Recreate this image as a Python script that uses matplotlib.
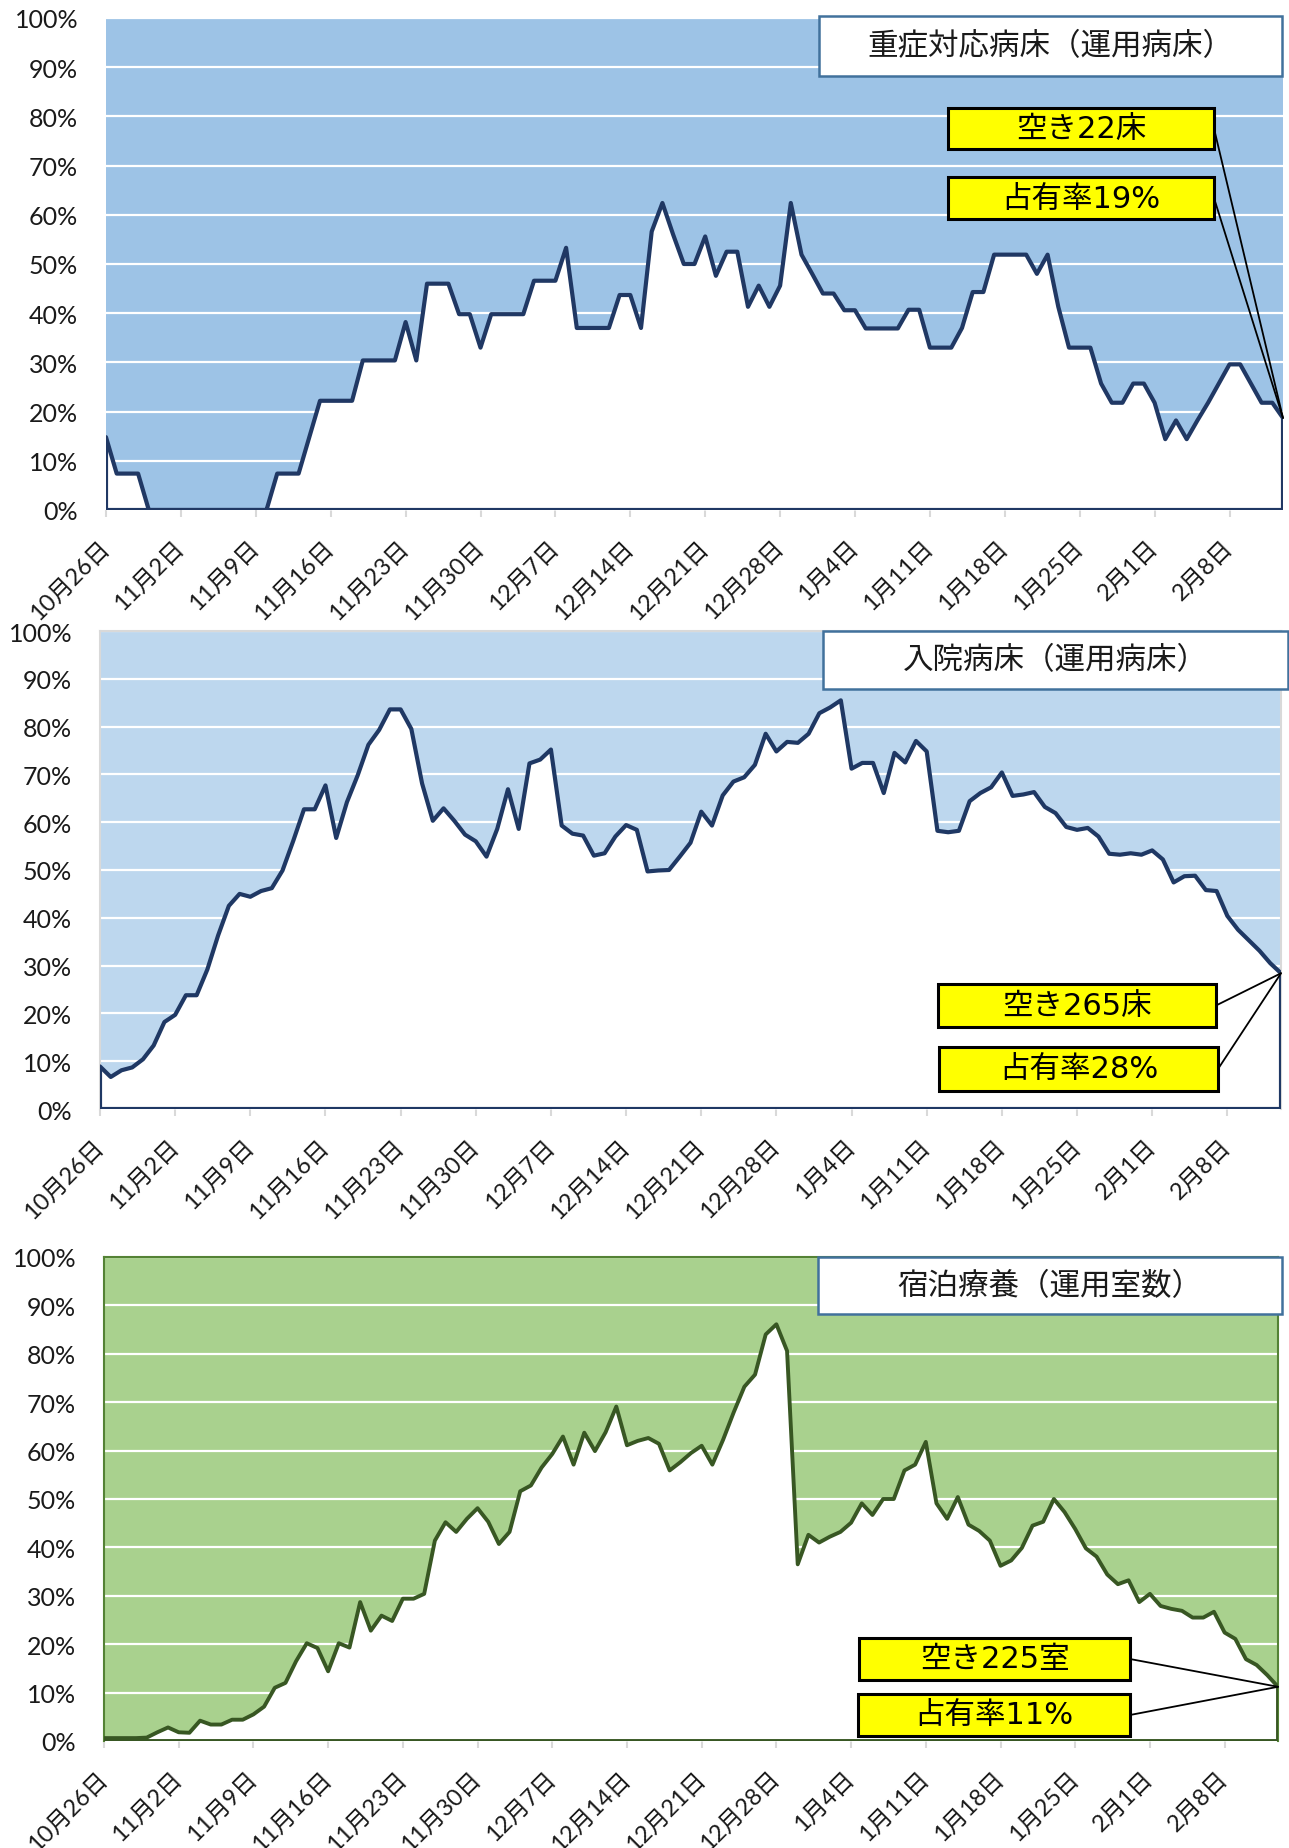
import numpy as np
import matplotlib
matplotlib.use("Agg")
import matplotlib.pyplot as plt
from matplotlib.patches import Rectangle, ConnectionPatch

# ---------------- data ----------------
tick_labels = ["10月26日", "11月2日", "11月9日", "11月16日", "11月23日", "11月30日",
               "12月7日", "12月14日", "12月21日", "12月28日", "1月4日", "1月11日",
               "1月18日", "1月25日", "2月1日", "2月8日"]

# 重症対応病床 occupancy (%), daily from 10/26 to 2/13
severe = [14.8, 7.4, 7.4, 7.4,
          0, 0, 0, 0, 0, 0, 0, 0, 0, 0, 0, 0,
          7.4, 7.4, 7.4, 14.8,
          22.2, 22.2, 22.2, 22.2,
          30.4, 30.4, 30.4, 30.4,
          38.2, 30.4,
          46.0, 46.0, 46.0,
          39.8, 39.8, 33.0,
          39.8, 39.8, 39.8, 39.8,
          46.6, 46.6, 46.6, 53.3,
          37.0, 37.0, 37.0, 37.0,
          43.7, 43.7, 37.0,
          56.6, 62.4, 56.0, 50.0, 50.0, 55.6, 47.6, 52.5, 52.5, 41.3,
          45.6, 41.3, 45.6, 62.4, 51.9, 48.0, 44.0, 44.0, 40.6, 40.6,
          36.9, 36.9, 36.9, 36.9, 40.7, 40.7, 33.0, 33.0, 33.0, 37.0,
          44.3, 44.3, 51.9, 51.9, 51.9, 51.9, 48.0, 51.9, 41.3, 33.0,
          33.0, 33.0, 25.7, 21.8, 21.8, 25.7, 25.7, 21.8, 14.4, 18.2,
          14.4, 18.2, 21.8, 25.7, 29.6, 29.6, 25.7, 21.8, 21.8, 18.7]

# 入院病床 occupancy (%)
hospital = [8.9, 6.7, 8.1, 8.7, 10.4, 13.3, 18.2, 19.7, 23.8, 23.8,
            29.2, 36.3, 42.5, 45.0, 44.4, 45.6, 46.2, 49.9, 56.1, 62.7,
            62.7, 67.7, 56.7, 64.2, 69.8, 76.2, 79.3, 83.6, 83.6, 79.5,
            68.1, 60.3, 62.9, 60.3, 57.4, 56.0, 52.8, 58.6, 66.9, 58.6,
            72.3, 73.1, 75.2, 59.3, 57.6, 57.2, 53.0, 53.5, 57.0, 59.4,
            58.4, 49.7, 49.9, 50.0, 52.8, 55.7, 62.2, 59.3, 65.6, 68.5,
            69.4, 72.0, 78.5, 74.8, 76.8, 76.6, 78.5, 82.8, 84.0, 85.5,
            71.2, 72.4, 72.4, 66.1, 74.5, 72.5, 77.0, 74.8, 58.2, 57.9,
            58.2, 64.4, 66.1, 67.3, 70.4, 65.5, 65.8, 66.3, 63.2, 61.9,
            59.0, 58.4, 58.8, 57.0, 53.4, 53.2, 53.5, 53.2, 54.1, 52.2,
            47.4, 48.7, 48.8, 45.8, 45.6, 40.4, 37.5, 35.3, 33.1, 30.5,
            28.4]

# 宿泊療養 occupancy (%)
hotel = [0.6, 0.6, 0.6, 0.6, 0.7, 1.8, 2.8, 1.8, 1.7, 4.2,
         3.4, 3.4, 4.4, 4.4, 5.5, 7.1, 11.0, 12.0, 16.5, 20.2,
         19.2, 14.4, 20.2, 19.3, 28.7, 22.8, 25.9, 24.8, 29.4, 29.4,
         30.4, 41.4, 45.2, 43.2, 45.9, 48.1, 45.3, 40.7, 43.2, 51.6,
         52.8, 56.5, 59.3, 62.9, 57.1, 63.7, 59.9, 63.8, 69.1, 61.1,
         62.0, 62.6, 61.4, 55.9, 57.6, 59.5, 61.0, 57.1, 62.2, 67.9,
         73.2, 75.7, 84.0, 86.1, 80.6, 36.5, 42.6, 41.0, 42.2, 43.2,
         45.1, 49.1, 46.7, 50.0, 50.0, 55.9, 57.1, 61.8, 49.1, 45.9,
         50.4, 44.7, 43.4, 41.4, 36.2, 37.3, 39.9, 44.5, 45.3, 50.0,
         47.3, 43.8, 39.8, 38.1, 34.4, 32.4, 33.2, 28.7, 30.4, 27.9,
         27.3, 26.9, 25.5, 25.5, 26.7, 22.4, 21.1, 16.9, 15.7, 13.6,
         11.2]

titles = ["重症対応病床（運用病床）", "入院病床（運用病床）", "宿泊療養（運用室数）"]
labels_a = ["空き22床", "空き265床", "空き225室"]
labels_b = ["占有率19%", "占有率28%", "占有率11%"]

# ---------------- figure ----------------
plt.rcParams["font.family"] = ["Lato", "Noto Sans CJK JP"]
W, H = 1289, 1849
fig = plt.figure(figsize=(W / 100, H / 100), dpi=100)


def fx(px):
    return px / W


def fy(py):
    return 1 - py / H


def make_axes(l, t, r, b):
    return fig.add_axes([fx(l), fy(b), (r - l) / W, (b - t) / H])


panels = [
    dict(vals=severe, box=(106, 19, 1283, 511), bg="#9DC3E6", lc="#203864",
         lw=3.0, spine=None,
         title_box=(819, 17, 1282, 77),
         ya=(948, 109, 1214, 150), yb=(948, 178, 1214, 220)),
    dict(vals=hospital, box=(100, 632, 1281, 1110), bg="#BDD7EE", lc="#1F3864",
         lw=3.0, spine="#D9D9D9",
         title_box=(823, 632, 1288, 690),
         ya=(938, 985, 1216, 1028), yb=(939, 1048, 1218, 1092)),
    dict(vals=hotel, box=(104, 1258, 1278, 1742), bg="#A9D18E", lc="#385723",
         lw=2.8, spine="#548235",
         title_box=(818, 1258, 1282, 1315),
         ya=(859, 1639, 1130, 1681), yb=(858, 1695, 1130, 1737)),
]

for i, p in enumerate(panels):
    ax = make_axes(*p["box"])
    vals = np.array(p["vals"], dtype=float)
    x = np.arange(len(vals))
    ax.set_facecolor(p["bg"])
    ax.set_xlim(0, len(vals) - 1)
    ax.set_ylim(0, 100)
    ax.set_axisbelow(True)
    ax.yaxis.grid(True, color="white", lw=1.6)
    ax.fill_between(x, 0, vals, color="white", lw=0, zorder=2)
    # outline of the area (clipped at the plot edges)
    ox = np.concatenate([[0], x, [x[-1]], [0]])
    oy = np.concatenate([[0], vals, [0], [0]])
    ax.plot(ox, oy, color=p["lc"], lw=p["lw"], zorder=3,
            solid_joinstyle="round", solid_capstyle="butt")

    ax.set_yticks(np.arange(0, 101, 10))
    ax.set_yticklabels([f"{v}%" for v in range(0, 101, 10)])
    ax.set_xticks(np.arange(0, 7 * len(tick_labels), 7))
    ax.set_xticklabels(tick_labels, rotation=45, ha="right", va="center",
                       rotation_mode="anchor")
    ax.tick_params(axis="y", length=0, pad=20, labelsize=18, labelcolor="#1a1a1a")
    ax.tick_params(axis="x", length=5, width=1.5, color="#D9D9D9", pad=19,
                   labelsize=17, labelcolor="#1a1a1a", direction="out")
    for s in ax.spines.values():
        if p["spine"] is None:
            s.set_visible(False)
        else:
            s.set_color(p["spine"])
            s.set_linewidth(1.5)
    ax.spines["bottom"].set_visible(False)

    # title box
    l, t, r, b = p["title_box"]
    fig.add_artist(Rectangle((fx(l), fy(b)), (r - l) / W, (b - t) / H,
                             transform=fig.transFigure, facecolor="white",
                             edgecolor="#41719C", lw=1.8, zorder=5))
    fig.text(fx((l + r) / 2), fy((t + b) / 2), titles[i], ha="center", va="center",
             fontsize=22, family=["Noto Sans CJK JP"], color="#1a1a1a", zorder=6)

    # yellow callouts
    for key, txt in (("ya", labels_a[i]), ("yb", labels_b[i])):
        l, t, r, b = p[key]
        fig.add_artist(Rectangle((fx(l), fy(b)), (r - l) / W, (b - t) / H,
                                 transform=fig.transFigure, facecolor="#FFFF00",
                                 edgecolor="black", lw=2.2, zorder=5))
        fig.text(fx((l + r) / 2), fy((t + b) / 2), txt, ha="center", va="center",
                 fontsize=22, family=["DejaVu Sans", "Noto Sans CJK JP"],
                 color="black", zorder=6)
        con = ConnectionPatch(xyA=(fx(r), fy((t + b) / 2)), coordsA="figure fraction",
                              xyB=(x[-1], vals[-1]), coordsB=ax.transData,
                              color="black", lw=1.3, zorder=4)
        fig.add_artist(con)

fig.savefig("out.png", dpi=100)
